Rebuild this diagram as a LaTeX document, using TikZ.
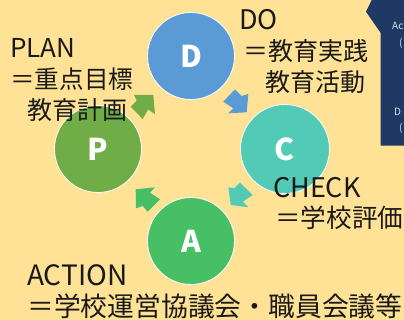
\documentclass[tikz,border=0pt]{standalone}
\usepackage{fontspec}
\setmainfont{Noto Sans CJK JP}
\definecolor{bg}{HTML}{FFE295}
\definecolor{cD}{HTML}{5B9BD5}
\definecolor{cC}{HTML}{52CAB6}
\definecolor{cA}{HTML}{47BF65}
\definecolor{cP}{HTML}{70AD47}
\definecolor{navy}{HTML}{1F3864}
\tikzset{
  phase/.style={circle,draw=white,line width=0.8pt,minimum size=87pt,inner sep=0pt,text=white,font=\fontsize{30}{30}\selectfont\bfseries},
  lbl/.style={anchor=base west,inner sep=0pt,text=black!90,font=\fontsize{#1}{#1}\selectfont},
  lbl/.default=25,
  side/.style={anchor=base west,inner sep=0pt,text=white!85!navy,font=\fontsize{10}{10}\selectfont}
}
\begin{document}
\begin{tikzpicture}[x=1pt,y=-1pt]
\useasboundingbox (0,0) rectangle (404,320);
\clip (0,0) rectangle (404,320);
\fill[bg] (0,0) rectangle (404,320);
\fill[navy] (371.7,0) -- (366,11.7) -- (380.7,33) -- (380.7,145.7) -- (404,145.7) -- (404,0) -- cycle;
\node[side] (s1) at (392,30) {Ac};
\node[side] (s2) at (399,47) {(};
\node[side] (s3) at (394,116) {D};
\node[side] (s4) at (399,132) {(};
\node[phase,fill=cD] (D) at (191,56) {D};
\node[phase,fill=cC,minimum size=89pt] (C) at (285,149) {C};
\node[phase,fill=cA] (A) at (191,241) {A};
\node[phase,fill=cP] (P) at (98,149) {P};
\fill[cD] (223.3,101.7) -- (235,89.3) -- (241.7,96) -- (248.3,94) -- (246.7,112.3) -- (228.3,113.3) -- (233.3,108.3) -- cycle;
\fill[cC] (252.7,195) -- (240,182.7) -- (234.3,188.3) -- (228.3,187.3) -- (230.7,205) -- (248.3,207.3) -- (242.7,201.7) -- cycle;
\fill[cA] (160,199.3) -- (147.7,211.7) -- (142.7,206) -- (136,208.3) -- (135.7,189.3) -- (155,187.3) -- (150,192.7) -- cycle;
\fill[cP] (134,95) -- (153.3,95) -- (155,114.3) -- (148.3,109.3) -- (142.7,119) -- (130.7,106.7) -- (136.7,100.7) -- cycle;
\node[lbl=26] (l1) at (10,58) {PLAN};
\node[lbl=24.6] (l2) at (10,89) {＝重点目標};
\node[lbl=25] (l3) at (27,120) {教育計画};
\node[lbl=27] (l4) at (239,30) {DO};
\node[lbl=25] (l5) at (243,61) {＝教育実践};
\node[lbl=25] (l6) at (265,92) {教育活動};
\node[lbl=27] (l7) at (273,198) {CHECK};
\node[lbl=25.6] (l8) at (275,228) {＝学校評価};
\node[lbl=28] (l9) at (27,286) {ACTION};
\node[lbl=26.8] (l10) at (27,316) {＝学校運営協議会・職員会議等};
\end{tikzpicture}
\end{document}
